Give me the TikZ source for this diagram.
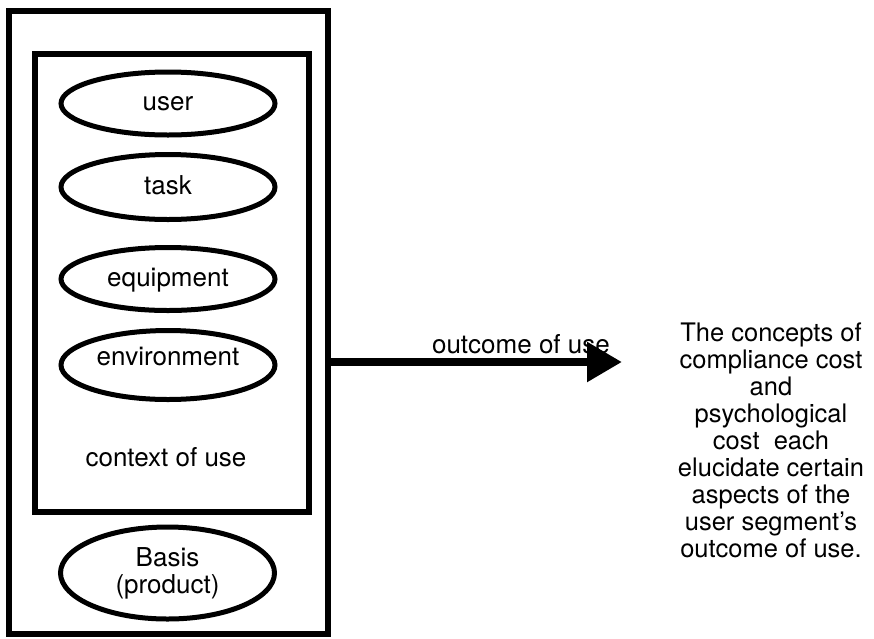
\documentclass[tikz,border=0pt]{standalone}
\usepackage{fontspec}
\setmainfont{TeX Gyre Heros}
\usetikzlibrary{arrows.meta,shapes.geometric}

\begin{document}
\begin{tikzpicture}[x=1pt,y=-1pt,node distance=86pt,
		font=\fontsize{26}{27}\selectfont]
		\tikzstyle{frame}=[draw,line width=5.5pt,inner sep=0pt]
		\tikzstyle{part}=[ellipse,draw,line width=5pt,minimum width=214pt,
		minimum height=63pt,inner sep=0pt,text height=19pt,text depth=5pt]
		
		\useasboundingbox (0,0) rectangle (874,638);
		
		\node[frame,minimum width=319pt,minimum height=623pt] (whole) at (168.5,322.5) {};
		\node[frame,minimum width=274pt,minimum height=458pt] (ctx) at (172,283) {};
		
		\node[part]         (user)  at (168,103.5)                        {user};
		\node[part,minimum height=65pt] (task)  [node distance=83.5pt,below of=user] {task};
		\node[part]         (equip) [node distance=92pt,below of=task]   {equipment};
		\node[part,minimum height=69pt,text depth=19pt] (env) [below of=equip] {environment};
		\node[anchor=base]  (ctxlabel) at (166,466) {context of use};
		\node[part,minimum height=92pt,align=center,text height=,text depth=] (prod) at (167.5,573) {Basis\\(product)};
		
		\coordinate (tip) at (622,362);
		\draw[line width=8.5pt,-{Triangle[length=35pt,width=38pt]}] (whole.east |- tip) -- (tip)
		node[pos=0.653,anchor=base,yshift=9pt] {outcome of use};
		
		\node[anchor=north,align=center,inner sep=0pt,font=\fontsize{25.5}{26.9}\selectfont] (note) at (771,323)
		{The concepts of\\compliance cost\\and\\psychological\\cost\ \ each\\elucidate certain\\aspects of the\\user segment’s\\outcome of use.};
\end{tikzpicture}
\end{document}
